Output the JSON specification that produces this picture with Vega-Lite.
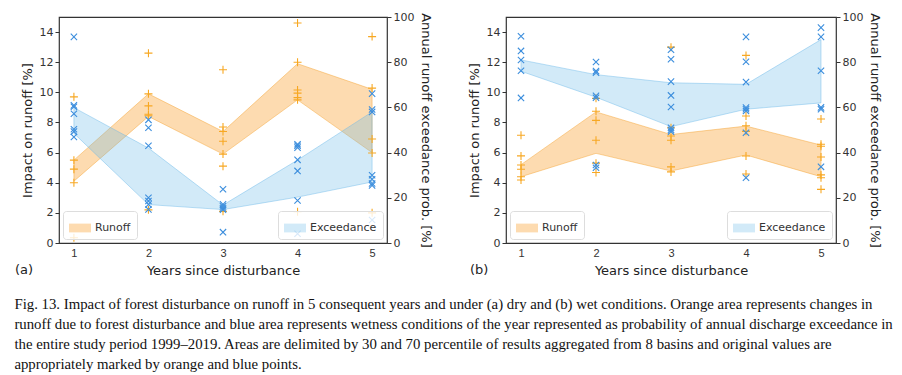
{
  "$schema": "https://vega.github.io/schema/vega-lite/v6.json",
  "padding": {"left": 14, "top": 10, "right": 15, "bottom": 4},
  "config": {
    "font": "DejaVu Sans",
    "view": {"stroke": "#333", "strokeWidth": 1.2},
    "axis": {"labelFontSize": 11, "labelColor": "#333", "titleFontSize": 13, "titleFontWeight": "normal", "titleColor": "#222", "tickColor": "#333", "grid": false, "domain": false},
    "legend": {"labelFontSize": 11, "labelColor": "#333"}
  },
  "datasets": {
    "areas": [
      {"panel": "a", "year": 1, "r_lo": 4.1, "r_hi": 5.5, "e_lo": 48.5, "e_hi": 59.9},
      {"panel": "a", "year": 2, "r_lo": 8.4, "r_hi": 9.9, "e_lo": 17.0, "e_hi": 42.0},
      {"panel": "a", "year": 3, "r_lo": 5.9, "r_hi": 7.4, "e_lo": 14.8, "e_hi": 16.8},
      {"panel": "a", "year": 4, "r_lo": 9.5, "r_hi": 11.9, "e_lo": 20.3, "e_hi": 36.7},
      {"panel": "a", "year": 5, "r_lo": 6.0, "r_hi": 10.2, "e_lo": 27.0, "e_hi": 58.0},
      {"panel": "b", "year": 1, "r_lo": 4.4, "r_hi": 5.2, "e_lo": 76.0, "e_hi": 81.0},
      {"panel": "b", "year": 2, "r_lo": 5.95, "r_hi": 8.7, "e_lo": 64.5, "e_hi": 74.5},
      {"panel": "b", "year": 3, "r_lo": 4.78, "r_hi": 7.2, "e_lo": 51.5, "e_hi": 70.9},
      {"panel": "b", "year": 4, "r_lo": 5.84, "r_hi": 7.76, "e_lo": 59.2, "e_hi": 70.2},
      {"panel": "b", "year": 5, "r_lo": 4.4, "r_hi": 6.5, "e_lo": 62.0, "e_hi": 90.0}
    ],
    "runoff": [
      {"panel": "a", "year": 1, "value": 9.7}, {"panel": "a", "year": 1, "value": 5.5}, {"panel": "a", "year": 1, "value": 4.9}, {"panel": "a", "year": 1, "value": 4.0}, {"panel": "a", "year": 1, "value": 0.35},
      {"panel": "a", "year": 2, "value": 12.6}, {"panel": "a", "year": 2, "value": 9.9}, {"panel": "a", "year": 2, "value": 9.1}, {"panel": "a", "year": 2, "value": 8.55}, {"panel": "a", "year": 2, "value": 8.45}, {"panel": "a", "year": 2, "value": 2.2},
      {"panel": "a", "year": 3, "value": 11.5}, {"panel": "a", "year": 3, "value": 7.7}, {"panel": "a", "year": 3, "value": 7.4}, {"panel": "a", "year": 3, "value": 6.75}, {"panel": "a", "year": 3, "value": 5.9}, {"panel": "a", "year": 3, "value": 5.1}, {"panel": "a", "year": 3, "value": 2.1},
      {"panel": "a", "year": 4, "value": 14.6}, {"panel": "a", "year": 4, "value": 12.0}, {"panel": "a", "year": 4, "value": 10.15}, {"panel": "a", "year": 4, "value": 9.95}, {"panel": "a", "year": 4, "value": 9.65}, {"panel": "a", "year": 4, "value": 9.5}, {"panel": "a", "year": 4, "value": 2.07},
      {"panel": "a", "year": 5, "value": 13.7}, {"panel": "a", "year": 5, "value": 10.28}, {"panel": "a", "year": 5, "value": 6.9}, {"panel": "a", "year": 5, "value": 5.97}, {"panel": "a", "year": 5, "value": 2.0},
      {"panel": "b", "year": 1, "value": 7.15}, {"panel": "b", "year": 1, "value": 5.78}, {"panel": "b", "year": 1, "value": 5.18}, {"panel": "b", "year": 1, "value": 4.89}, {"panel": "b", "year": 1, "value": 4.4}, {"panel": "b", "year": 1, "value": 4.18},
      {"panel": "b", "year": 2, "value": 9.6}, {"panel": "b", "year": 2, "value": 8.74}, {"panel": "b", "year": 2, "value": 8.14}, {"panel": "b", "year": 2, "value": 6.82}, {"panel": "b", "year": 2, "value": 5.3}, {"panel": "b", "year": 2, "value": 4.68},
      {"panel": "b", "year": 3, "value": 13.0}, {"panel": "b", "year": 3, "value": 7.65}, {"panel": "b", "year": 3, "value": 7.1}, {"panel": "b", "year": 3, "value": 6.82}, {"panel": "b", "year": 3, "value": 5.05}, {"panel": "b", "year": 3, "value": 4.72},
      {"panel": "b", "year": 4, "value": 12.45}, {"panel": "b", "year": 4, "value": 8.43}, {"panel": "b", "year": 4, "value": 7.78}, {"panel": "b", "year": 4, "value": 7.41}, {"panel": "b", "year": 4, "value": 5.77}, {"panel": "b", "year": 4, "value": 4.58},
      {"panel": "b", "year": 5, "value": 8.23}, {"panel": "b", "year": 5, "value": 6.55}, {"panel": "b", "year": 5, "value": 6.42}, {"panel": "b", "year": 5, "value": 5.71}, {"panel": "b", "year": 5, "value": 4.52}, {"panel": "b", "year": 5, "value": 4.33}, {"panel": "b", "year": 5, "value": 3.56}
    ],
    "exceed": [
      {"panel": "a", "year": 1, "value": 91.2}, {"panel": "a", "year": 1, "value": 60.9}, {"panel": "a", "year": 1, "value": 60.3}, {"panel": "a", "year": 1, "value": 57.2}, {"panel": "a", "year": 1, "value": 50.3}, {"panel": "a", "year": 1, "value": 49.3}, {"panel": "a", "year": 1, "value": 46.9},
      {"panel": "a", "year": 2, "value": 54.5}, {"panel": "a", "year": 2, "value": 51.0}, {"panel": "a", "year": 2, "value": 43.0}, {"panel": "a", "year": 2, "value": 20.0}, {"panel": "a", "year": 2, "value": 18.6}, {"panel": "a", "year": 2, "value": 17.1}, {"panel": "a", "year": 2, "value": 14.8},
      {"panel": "a", "year": 3, "value": 23.8}, {"panel": "a", "year": 3, "value": 17.1}, {"panel": "a", "year": 3, "value": 16.2}, {"panel": "a", "year": 3, "value": 15.3}, {"panel": "a", "year": 3, "value": 14.7}, {"panel": "a", "year": 3, "value": 4.8},
      {"panel": "a", "year": 4, "value": 43.7}, {"panel": "a", "year": 4, "value": 43.0}, {"panel": "a", "year": 4, "value": 42.2}, {"panel": "a", "year": 4, "value": 36.8}, {"panel": "a", "year": 4, "value": 31.9}, {"panel": "a", "year": 4, "value": 18.8}, {"panel": "a", "year": 4, "value": 4.1},
      {"panel": "a", "year": 5, "value": 66.1}, {"panel": "a", "year": 5, "value": 59.1}, {"panel": "a", "year": 5, "value": 58.0}, {"panel": "a", "year": 5, "value": 30.0}, {"panel": "a", "year": 5, "value": 28.2}, {"panel": "a", "year": 5, "value": 26.3}, {"panel": "a", "year": 5, "value": 25.5}, {"panel": "a", "year": 5, "value": 10.2},
      {"panel": "b", "year": 1, "value": 91.5}, {"panel": "b", "year": 1, "value": 85.0}, {"panel": "b", "year": 1, "value": 81.0}, {"panel": "b", "year": 1, "value": 76.2}, {"panel": "b", "year": 1, "value": 64.2},
      {"panel": "b", "year": 2, "value": 80.1}, {"panel": "b", "year": 2, "value": 76.1}, {"panel": "b", "year": 2, "value": 75.4}, {"panel": "b", "year": 2, "value": 65.1}, {"panel": "b", "year": 2, "value": 64.3}, {"panel": "b", "year": 2, "value": 34.5}, {"panel": "b", "year": 2, "value": 33.3},
      {"panel": "b", "year": 3, "value": 85.5}, {"panel": "b", "year": 3, "value": 81.3}, {"panel": "b", "year": 3, "value": 71.4}, {"panel": "b", "year": 3, "value": 65.3}, {"panel": "b", "year": 3, "value": 60.2}, {"panel": "b", "year": 3, "value": 51.0}, {"panel": "b", "year": 3, "value": 50.1}, {"panel": "b", "year": 3, "value": 49.3},
      {"panel": "b", "year": 4, "value": 91.2}, {"panel": "b", "year": 4, "value": 80.2}, {"panel": "b", "year": 4, "value": 71.2}, {"panel": "b", "year": 4, "value": 59.9}, {"panel": "b", "year": 4, "value": 59.2}, {"panel": "b", "year": 4, "value": 58.4}, {"panel": "b", "year": 4, "value": 48.8}, {"panel": "b", "year": 4, "value": 28.9},
      {"panel": "b", "year": 5, "value": 95.3}, {"panel": "b", "year": 5, "value": 91.2}, {"panel": "b", "year": 5, "value": 76.2}, {"panel": "b", "year": 5, "value": 60.0}, {"panel": "b", "year": 5, "value": 59.2}, {"panel": "b", "year": 5, "value": 33.7}
    ]
  },
  "title": {
    "text": [
      "Fig. 13. Impact of forest disturbance on runoff in 5 consequent years and under (a) dry and (b) wet conditions. Orange area represents changes in",
      "runoff due to forest disturbance and blue area represents wetness conditions of the year represented as probability of annual discharge exceedance in",
      "the entire study period 1999–2019. Areas are delimited by 30 and 70 percentile of results aggregated from 8 basins and original values are",
      "appropriately marked by orange and blue points."
    ],
    "orient": "bottom", "anchor": "start", "font": "Liberation Serif", "fontSize": 14.8, "fontWeight": "normal", "lineHeight": 20, "offset": 19, "color": "#111"
  },
  "spacing": 34,
  "resolve": {"scale": {"color": "independent", "y": "independent", "x": "independent"}},
  "hconcat": [
    {
      "width": 328, "height": 226,
      "title": {"text": "(a)", "orient": "bottom", "anchor": "start", "frame": "group", "dx": -44, "offset": -13, "fontSize": 13, "fontWeight": "normal", "color": "#222"},
      "resolve": {"scale": {"y": "independent", "color": "independent"}},
      "layer": [
        {
          "data": {"name": "areas"}, "transform": [{"filter": "datum.panel == 'a'"}],
          "mark": {"type": "area", "fillOpacity": 0.4, "stroke": "#F5A02A", "strokeOpacity": 0.45, "strokeWidth": 1},
          "encoding": {
            "x": {"field": "year", "type": "quantitative", "scale": {"domain": [0.8, 5.2], "nice": false, "zero": false}, "axis": {"values": [1, 2, 3, 4, 5], "ticks": false, "title": "Years since disturbance", "labelPadding": 4, "titlePadding": 6, "labelFont": "Liberation Sans"}},
            "y": {"field": "r_lo", "type": "quantitative", "scale": {"domain": [0, 15], "nice": false}, "axis": {"orient": "left", "title": "Impact on runoff [%]", "values": [0, 2, 4, 6, 8, 10, 12, 14], "tickSize": 4, "titlePadding": 5}},
            "y2": {"field": "r_hi"},
            "color": {"datum": "Runoff", "scale": {"range": ["#F9A63A"]}, "legend": {"orient": "bottom-left", "offset": 4, "title": null, "symbolType": "M-1,-0.4H1V0.4H-1Z", "symbolSize": 484, "symbolOpacity": 0.4, "symbolStrokeWidth": 0, "strokeColor": "#ddd", "padding": 6, "cornerRadius": 3, "fillColor": "rgba(255,255,255,0.8)"}}
          }
        },
        {
          "data": {"name": "areas"}, "transform": [{"filter": "datum.panel == 'a'"}],
          "mark": {"type": "area", "fillOpacity": 0.3, "stroke": "#6BB8E8", "strokeOpacity": 0.45, "strokeWidth": 1},
          "encoding": {
            "x": {"field": "year", "type": "quantitative", "scale": {"domain": [0.8, 5.2], "nice": false, "zero": false}, "axis": {"values": [1, 2, 3, 4, 5], "ticks": false, "title": "Years since disturbance", "labelPadding": 4, "titlePadding": 6, "labelFont": "Liberation Sans"}},
            "y": {"field": "e_lo", "type": "quantitative", "scale": {"domain": [0, 100], "nice": false}, "axis": {"orient": "right", "title": "Annual runoff exceedance prob. [%]", "values": [0, 20, 40, 60, 80, 100], "tickSize": 4, "titlePadding": 5}},
            "y2": {"field": "e_hi"},
            "color": {"datum": "Exceedance", "scale": {"range": ["#6BB8E8"]}, "legend": {"orient": "bottom-right", "offset": 4, "title": null, "symbolType": "M-1,-0.4H1V0.4H-1Z", "symbolSize": 484, "symbolOpacity": 0.3, "symbolStrokeWidth": 0, "strokeColor": "#ddd", "padding": 6, "cornerRadius": 3, "fillColor": "rgba(255,255,255,0.8)"}}
          }
        },
        {
          "data": {"name": "runoff"}, "transform": [{"filter": "datum.panel == 'a'"}],
          "mark": {"type": "point", "shape": "M-1,0H1M0,-1V1", "size": 64, "filled": false, "strokeWidth": 1.1, "color": "#F7A823", "opacity": 1},
          "encoding": {
            "x": {"field": "year", "type": "quantitative", "scale": {"domain": [0.8, 5.2], "nice": false, "zero": false}, "axis": {"values": [1, 2, 3, 4, 5], "ticks": false, "title": "Years since disturbance", "labelPadding": 4, "titlePadding": 6, "labelFont": "Liberation Sans"}},
            "y": {"field": "value", "type": "quantitative", "scale": {"domain": [0, 15], "nice": false}, "axis": null}
          }
        },
        {
          "data": {"name": "exceed"}, "transform": [{"filter": "datum.panel == 'a'"}],
          "mark": {"type": "point", "shape": "M-1,-1L1,1M-1,1L1,-1", "size": 40, "filled": false, "strokeWidth": 1.1, "color": "#3C8EDD", "opacity": 1},
          "encoding": {
            "x": {"field": "year", "type": "quantitative", "scale": {"domain": [0.8, 5.2], "nice": false, "zero": false}, "axis": {"values": [1, 2, 3, 4, 5], "ticks": false, "title": "Years since disturbance", "labelPadding": 4, "titlePadding": 6, "labelFont": "Liberation Sans"}},
            "y": {"field": "value", "type": "quantitative", "scale": {"domain": [0, 100], "nice": false}, "axis": null}
          }
        }
      ]
    },
    {
      "width": 330, "height": 226,
      "title": {"text": "(b)", "orient": "bottom", "anchor": "start", "frame": "group", "dx": -36, "offset": -13, "fontSize": 13, "fontWeight": "normal", "color": "#222"},
      "resolve": {"scale": {"y": "independent", "color": "independent"}},
      "layer": [
        {
          "data": {"name": "areas"}, "transform": [{"filter": "datum.panel == 'b'"}],
          "mark": {"type": "area", "fillOpacity": 0.4, "stroke": "#F5A02A", "strokeOpacity": 0.45, "strokeWidth": 1},
          "encoding": {
            "x": {"field": "year", "type": "quantitative", "scale": {"domain": [0.8, 5.2], "nice": false, "zero": false}, "axis": {"values": [1, 2, 3, 4, 5], "ticks": false, "title": "Years since disturbance", "labelPadding": 4, "titlePadding": 6, "labelFont": "Liberation Sans"}},
            "y": {"field": "r_lo", "type": "quantitative", "scale": {"domain": [0, 15], "nice": false}, "axis": {"orient": "left", "title": "Impact on runoff [%]", "values": [0, 2, 4, 6, 8, 10, 12, 14], "tickSize": 4, "titlePadding": 5}},
            "y2": {"field": "r_hi"},
            "color": {"datum": "Runoff", "scale": {"range": ["#F9A63A"]}, "legend": {"orient": "bottom-left", "offset": 4, "title": null, "symbolType": "M-1,-0.4H1V0.4H-1Z", "symbolSize": 484, "symbolOpacity": 0.4, "symbolStrokeWidth": 0, "strokeColor": "#ddd", "padding": 6, "cornerRadius": 3, "fillColor": "rgba(255,255,255,0.8)"}}
          }
        },
        {
          "data": {"name": "areas"}, "transform": [{"filter": "datum.panel == 'b'"}],
          "mark": {"type": "area", "fillOpacity": 0.3, "stroke": "#6BB8E8", "strokeOpacity": 0.45, "strokeWidth": 1},
          "encoding": {
            "x": {"field": "year", "type": "quantitative", "scale": {"domain": [0.8, 5.2], "nice": false, "zero": false}, "axis": {"values": [1, 2, 3, 4, 5], "ticks": false, "title": "Years since disturbance", "labelPadding": 4, "titlePadding": 6, "labelFont": "Liberation Sans"}},
            "y": {"field": "e_lo", "type": "quantitative", "scale": {"domain": [0, 100], "nice": false}, "axis": {"orient": "right", "title": "Annual runoff exceedance prob. [%]", "values": [0, 20, 40, 60, 80, 100], "tickSize": 4, "titlePadding": 5}},
            "y2": {"field": "e_hi"},
            "color": {"datum": "Exceedance", "scale": {"range": ["#6BB8E8"]}, "legend": {"orient": "bottom-right", "offset": 4, "title": null, "symbolType": "M-1,-0.4H1V0.4H-1Z", "symbolSize": 484, "symbolOpacity": 0.3, "symbolStrokeWidth": 0, "strokeColor": "#ddd", "padding": 6, "cornerRadius": 3, "fillColor": "rgba(255,255,255,0.8)"}}
          }
        },
        {
          "data": {"name": "runoff"}, "transform": [{"filter": "datum.panel == 'b'"}],
          "mark": {"type": "point", "shape": "M-1,0H1M0,-1V1", "size": 64, "filled": false, "strokeWidth": 1.1, "color": "#F7A823", "opacity": 1},
          "encoding": {
            "x": {"field": "year", "type": "quantitative", "scale": {"domain": [0.8, 5.2], "nice": false, "zero": false}, "axis": {"values": [1, 2, 3, 4, 5], "ticks": false, "title": "Years since disturbance", "labelPadding": 4, "titlePadding": 6, "labelFont": "Liberation Sans"}},
            "y": {"field": "value", "type": "quantitative", "scale": {"domain": [0, 15], "nice": false}, "axis": null}
          }
        },
        {
          "data": {"name": "exceed"}, "transform": [{"filter": "datum.panel == 'b'"}],
          "mark": {"type": "point", "shape": "M-1,-1L1,1M-1,1L1,-1", "size": 40, "filled": false, "strokeWidth": 1.1, "color": "#3C8EDD", "opacity": 1},
          "encoding": {
            "x": {"field": "year", "type": "quantitative", "scale": {"domain": [0.8, 5.2], "nice": false, "zero": false}, "axis": {"values": [1, 2, 3, 4, 5], "ticks": false, "title": "Years since disturbance", "labelPadding": 4, "titlePadding": 6, "labelFont": "Liberation Sans"}},
            "y": {"field": "value", "type": "quantitative", "scale": {"domain": [0, 100], "nice": false}, "axis": null}
          }
        }
      ]
    }
  ]
}
